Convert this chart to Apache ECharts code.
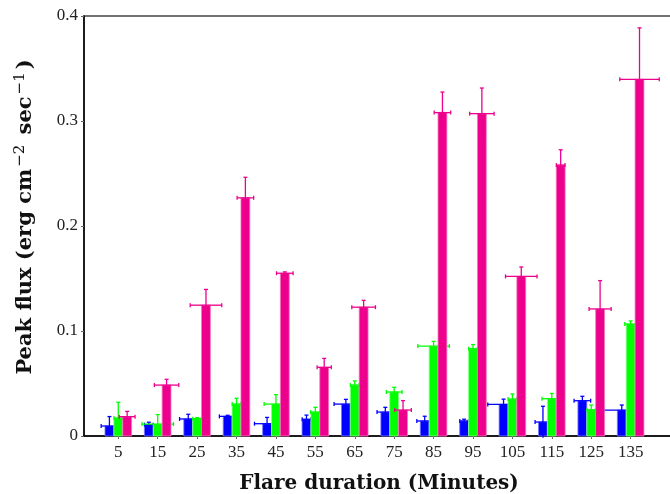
<!DOCTYPE html>
<html>
<head>
<meta charset="utf-8">
<script src="https://cdn.jsdelivr.net/npm/echarts@6/dist/echarts.min.js"></script>
<style>
  html, body { margin: 0; padding: 0; background: #fff; }
  #chart { width: 670px; height: 494px; }
</style>
</head>
<body>
<div id="chart"></div>
<script>
  // flare durations (minutes) and tick labels
  var minutes = [5, 15, 25, 35, 45, 55, 65, 75, 85, 95, 105, 115, 125, 135];
  var yTicks = [0, 0.1, 0.2, 0.3, 0.4];

  // peak flux, vertical error and horizontal error (minutes) for each series
  var blueFlux = [0.0095, 0.0108, 0.0162, 0.0187, 0.0117, 0.0159, 0.0304, 0.0228, 0.0143, 0.0143, 0.0301, 0.0133, 0.0336, 0.0247];
  var blueYErr = [0.009, 0.0023, 0.0045, 0.001, 0.006, 0.004, 0.0045, 0.0045, 0.0045, 0.0017, 0.005, 0.015, 0.0042, 0.0048];
  var blueXErr = [2.1, 1.1, 2.2, 2.1, 3.2, 1.1, 3, 2.1, 2, 1.1, 4, 2, 2.1, 4.5];

  var greenFlux = [0.0171, 0.0114, 0.0165, 0.0304, 0.0304, 0.0228, 0.0485, 0.0419, 0.0856, 0.0831, 0.0352, 0.0355, 0.025, 0.1066];
  var greenYErr = [0.015, 0.009, 0.001, 0.0055, 0.009, 0.0045, 0.004, 0.0045, 0.0045, 0.004, 0.0048, 0.005, 0.0045, 0.003];
  var greenXErr = [1.1, 4, 1.1, 1.1, 3, 1.2, 1.1, 2, 4, 1.1, 1.1, 2.5, 1.1, 1.5];

  var magentaFlux = [0.0184, 0.0485, 0.1246, 0.2268, 0.155, 0.0654, 0.1227, 0.0247, 0.308, 0.307, 0.152, 0.258, 0.121, 0.3397];
  var magentaYErr = [0.005, 0.0055, 0.015, 0.0196, 0.0013, 0.0085, 0.0065, 0.009, 0.0196, 0.0244, 0.009, 0.0146, 0.027, 0.049];
  var magentaXErr = [2, 3.1, 4, 2.1, 2.1, 1.8, 3, 2.1, 2.1, 3.1, 4, 1.1, 2.8, 5];

  var BAR_W = 2.25; // bar width in minutes
  var SERIF = "'DejaVu Serif', serif";
  var TICK_FONT = "'Liberation Serif', serif";

  function toData(flux, yErr, xErr) {
    return minutes.map(function (m, i) {
      return [m, flux[i], yErr[i], xErr[i]];
    });
  }

  function barRenderer(shift, color, edge) {
    return function (params, api) {
      var x = api.value(0) + shift;
      var v = api.value(1);
      var ye = api.value(2);
      var xe = api.value(3);
      var tl = api.coord([x - BAR_W / 2, v]);
      var br = api.coord([x + BAR_W / 2, 0]);
      var top = api.coord([x, v + ye]);
      var bot = api.coord([x, v - ye]);
      var left = api.coord([x - xe, v]);
      var right = api.coord([x + xe, v]);
      function ln(x1, y1, x2, y2) {
        return {
          type: "line",
          shape: { x1: x1, y1: y1, x2: x2, y2: y2 },
          style: { stroke: color, lineWidth: 1.3 },
        };
      }
      return {
        type: "group",
        children: [
          {
            type: "rect",
            shape: { x: tl[0], y: tl[1], width: br[0] - tl[0], height: br[1] - tl[1] },
            style: { fill: color, stroke: edge, lineWidth: 1 },
          },
          ln(bot[0], bot[1], top[0], top[1]),
          ln(top[0] - 2, top[1], top[0] + 2, top[1]),
          ln(left[0], left[1], right[0], right[1]),
          ln(left[0], left[1] - 2, left[0], left[1] + 2),
          ln(right[0], right[1] - 2, right[0], right[1] + 2),
        ],
      };
    };
  }

  var chart = echarts.init(document.getElementById("chart"));

  var option = {
    animation: false,
    backgroundColor: "#fff",
    grid: {
      left: 84,
      right: -4,
      top: 16,
      bottom: 58,
      outerBoundsMode: "none",
      show: true,
      borderColor: "#444",
      borderWidth: 1.5,
    },
    xAxis: {
      type: "value",
      min: -3.7,
      max: 146,
      name: "Flare duration (Minutes)",
      nameLocation: "middle",
      nameGap: 38,
      nameTextStyle: { fontFamily: SERIF, fontWeight: "bold", fontSize: 20, color: "#111" },
      splitLine: { show: false },
      axisLine: { onZero: false, lineStyle: { color: "#000", width: 1.5 } },
      axisTick: { customValues: minutes, length: 3, lineStyle: { color: "#666" } },
      axisLabel: {
        customValues: minutes,
        margin: 8,
        fontFamily: TICK_FONT,
        fontSize: 17,
        color: "#222",
      },
    },
    yAxis: {
      type: "value",
      min: 0,
      max: 0.4,
      interval: 0.1,
      name: "Peak flux (erg cm{sup|\u22122} sec{sup|\u22121})",
      nameLocation: "middle",
      nameGap: 45,
      nameTextStyle: {
        fontFamily: SERIF,
        fontWeight: "bold",
        fontSize: 21,
        color: "#111",
        padding: [0, 0, 0, 18],
        rich: {
          sup: {
            fontFamily: SERIF,
            fontSize: 15,
            fontWeight: "normal",
            color: "#111",
            verticalAlign: "bottom",
            padding: [0, 3, 11, 2],
          },
        },
      },
      splitLine: { show: false },
      axisLine: { show: true, onZero: false, lineStyle: { color: "#000", width: 1.5 } },
      axisTick: { show: true, length: 3, lineStyle: { color: "#666" } },
      axisLabel: {
        margin: 6,
        fontFamily: TICK_FONT,
        fontSize: 17,
        color: "#222",
        formatter: function (v) {
          return yTicks.indexOf(v) === 0 ? "0" : v.toFixed(1);
        },
      },
    },
    series: [
      {
        type: "custom",
        data: toData(blueFlux, blueYErr, blueXErr),
        encode: { x: 0, y: 1 },
        renderItem: barRenderer(-BAR_W, "#0000ff", "rgba(120,120,255,0.8)"),
      },
      {
        type: "custom",
        data: toData(greenFlux, greenYErr, greenXErr),
        encode: { x: 0, y: 1 },
        renderItem: barRenderer(0, "#00ff00", "rgba(140,255,140,0.8)"),
      },
      {
        type: "custom",
        data: toData(magentaFlux, magentaYErr, magentaXErr),
        encode: { x: 0, y: 1 },
        renderItem: barRenderer(BAR_W, "#ec008c", "rgba(245,120,190,0.8)"),
      },
    ],
  };

  chart.setOption(option);
</script>
</body>
</html>
